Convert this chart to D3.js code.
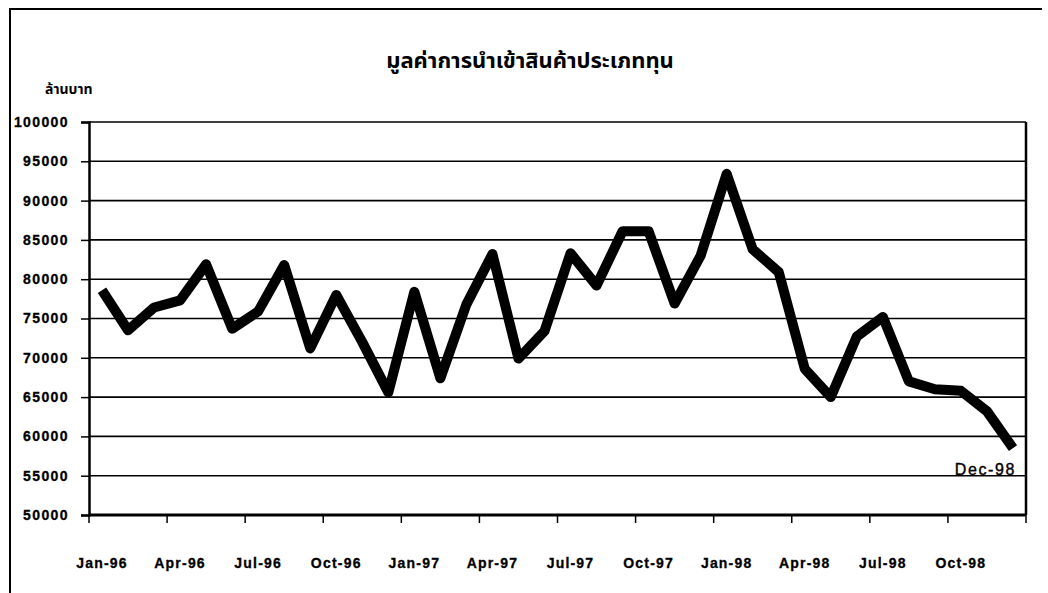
<!DOCTYPE html>
<html>
<head>
<meta charset="utf-8">
<script src="https://cdn.jsdelivr.net/npm/d3@7"></script>
<style>
  body { margin: 0; background: #fff; }
  svg text { font-family: "Liberation Sans", Arial, sans-serif; }
  .thai { font-family: "Noto Sans Thai", "Noto Sans", "DejaVu Sans", sans-serif; }
</style>
</head>
<body>
<div id="chart"></div>
<script>
// monthly values, million baht
var months = ["Jan-96", "Feb-96", "Mar-96", "Apr-96", "May-96", "Jun-96",
              "Jul-96", "Aug-96", "Sep-96", "Oct-96", "Nov-96", "Dec-96",
              "Jan-97", "Feb-97", "Mar-97", "Apr-97", "May-97", "Jun-97",
              "Jul-97", "Aug-97", "Sep-97", "Oct-97", "Nov-97", "Dec-97",
              "Jan-98", "Feb-98", "Mar-98", "Apr-98", "May-98", "Jun-98",
              "Jul-98", "Aug-98", "Sep-98", "Oct-98", "Nov-98", "Dec-98"];
var capitalImports = [78600, 73500, 76400, 77300, 81900, 73700,
                      75900, 81800, 71200, 78000, 72000, 65600,
                      78400, 67400, 76800, 83200, 69900, 73400,
                      83300, 79200, 86100, 86100, 76900, 83000,
                      93400, 83800, 80900, 68600, 65000, 72700,
                      75200, 67000, 66000, 65800, 63200, 58500];
var xLabels = ["Jan-96", "Apr-96", "Jul-96", "Oct-96", "Jan-97", "Apr-97",
               "Jul-97", "Oct-97", "Jan-98", "Apr-98", "Jul-98", "Oct-98"];
var yTicks = [50000, 55000, 60000, 65000, 70000, 75000, 80000, 85000, 90000, 95000, 100000];
var title = "มูลค่าการนำเข้าสินค้าประเภททุน";
var yTitle = "ล้านบาท";
var lastLabel = "Dec-98";

(function() {
var W = 1048, H = 593;
var mLeft = 89, mRight = 1026, mTop = 122, mBottom = 515;

var svg = d3.select('#chart')
  .append('svg')
  .attr('width', W)
  .attr('height', H);

// outer frame (left + top)
svg.append('path')
  .attr('d', 'M10,593V9H1042')
  .attr('fill', 'none')
  .attr('stroke', '#000')
  .attr('stroke-width', 2);

var x = d3.scaleBand().domain(months).range([mLeft, mRight]).padding(0);
var y = d3.scaleLinear().domain([50000, 100000]).range([mBottom, mTop]);

// gridlines
svg.append('g').selectAll('line')
  .data(yTicks)
  .enter()
  .append('line')
  .attr('x1', mLeft).attr('x2', mRight)
  .attr('y1', function(d) { return y(d); })
  .attr('y2', function(d) { return y(d); })
  .attr('stroke', '#000')
  .attr('stroke-width', 1.6);

// right border
svg.append('line')
  .attr('x1', mRight).attr('x2', mRight)
  .attr('y1', mTop).attr('y2', mBottom)
  .attr('stroke', '#000').attr('stroke-width', 2.5);

// y axis
var yAxis = svg.append('g')
  .attr('transform', 'translate(' + mLeft + ',0)')
  .call(d3.axisLeft(y).tickValues(yTicks).tickSize(8).tickPadding(12).tickFormat(d3.format('d')));
yAxis.select('.domain').attr('stroke-width', 2.5);
yAxis.selectAll('.tick line').attr('stroke-width', 1.5);
yAxis.selectAll('text')
  .style('font-size', '14px')
  .style('font-weight', 'bold')
  .style('letter-spacing', '1.4px')
  .attr('fill', '#000')
  .attr('stroke', '#000')
  .attr('stroke-width', 0.3);

// x axis: ticks on quarter boundaries, labels centred on the month
var xTickPos = xLabels.map(function(d) { return x(d); }).concat([mRight]);
svg.append('line')
  .attr('x1', mLeft).attr('x2', mRight)
  .attr('y1', mBottom).attr('y2', mBottom)
  .attr('stroke', '#000').attr('stroke-width', 3);
svg.append('g').selectAll('line')
  .data(xTickPos)
  .enter()
  .append('line')
  .attr('x1', function(d) { return d; })
  .attr('x2', function(d) { return d; })
  .attr('y1', mBottom).attr('y2', mBottom + 8)
  .attr('stroke', '#000').attr('stroke-width', 1.5);
svg.append('g').selectAll('text')
  .data(xLabels)
  .enter()
  .append('text')
  .attr('x', function(d) { return x(d) + x.bandwidth() / 2; })
  .attr('y', 568)
  .attr('text-anchor', 'middle')
  .attr('stroke', '#000')
  .attr('stroke-width', 0.3)
  .style('font-size', '14px')
  .style('font-weight', 'bold')
  .style('letter-spacing', '1.2px')
  .text(function(d) { return d; });

// the series line
var line = d3.line()
  .x(function(d, i) { return x(months[i]) + x.bandwidth() / 2; })
  .y(function(d) { return y(d); });

svg.append('path')
  .datum(capitalImports)
  .attr('d', line)
  .attr('fill', 'none')
  .attr('stroke', '#000')
  .attr('stroke-width', 10)
  .attr('stroke-linejoin', 'round')
  .attr('stroke-linecap', 'butt');

// label on last point
svg.append('text')
  .attr('x', x(months[months.length - 1]) + x.bandwidth() / 2 + 3)
  .attr('y', 475)
  .attr('text-anchor', 'end')
  .attr('stroke', '#000')
  .attr('stroke-width', 0.4)
  .style('font-size', '16px')
  .style('letter-spacing', '1.6px')
  .text(lastLabel);

// titles
svg.append('text')
  .attr('class', 'thai')
  .attr('x', 530)
  .attr('y', 68)
  .attr('text-anchor', 'middle')
  .style('font-size', '22px')
  .style('font-weight', 'bold')
  .text(title);

svg.append('text')
  .attr('class', 'thai')
  .attr('x', 45)
  .attr('y', 94)
  .style('font-size', '14px')
  .style('font-weight', 'bold')
  .text(yTitle);
})();
</script>
</body>
</html>
